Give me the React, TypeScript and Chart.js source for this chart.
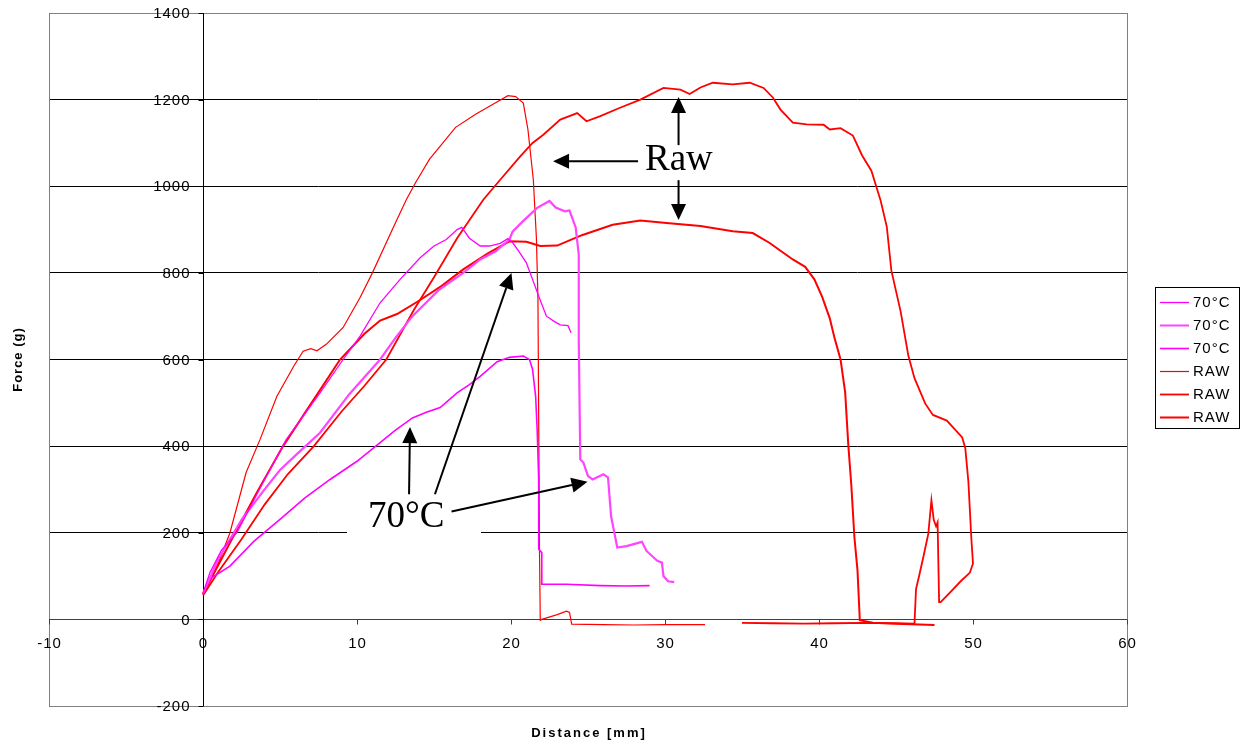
import React, { useEffect, useRef } from 'react';
import { Chart, registerables } from 'chart.js';

Chart.register(...registerables);

// ---------- axis ticks ----------
const xTickValues = [-10, 0, 10, 20, 30, 40, 50, 60];
const yTickValues = [-200, 0, 200, 400, 600, 800, 1000, 1200, 1400];
const xTitle = 'Distance [mm]';
const yTitle = 'Force (g)';

// ---------- series: 70°C ----------
const m1X = [0, 0.45, 1.2, 2.2, 3.9, 5.4, 7.6, 9.1, 10.2, 11.5, 12.8, 14.1, 15.0, 15.8, 16.5, 16.8, 17.3, 18.0, 18.6, 19.3, 19.8, 20.1, 20.5, 21.0, 21.4, 21.8, 22.3, 22.8, 23.2, 23.7, 23.9];
const m1Y = [60, 108, 160, 200, 316, 415, 523, 600, 654, 731, 785, 835, 862, 877, 900, 905, 880, 862, 862, 868, 879, 870, 850, 823, 785, 746, 700, 688, 680, 678, 662];

const m2X = [0, 1, 2.5, 4, 5.0, 6.2, 7.6, 9.5, 11.5, 12.5, 13.6, 15.3, 16.9, 18.0, 19.0, 19.9, 20.1, 20.8, 21.7, 22.5, 22.9, 23.5, 23.8, 24.2, 24.4, 24.4, 24.5, 24.7, 25.0, 25.3, 26.0, 26.3, 26.5, 26.9, 27.5, 28.5, 28.8, 29.5, 29.8, 29.9, 30.2, 30.6];
const m2Y = [60, 140, 230, 300, 345, 385, 431, 520, 600, 650, 700, 760, 800, 831, 850, 877, 895, 920, 950, 966, 951, 942, 944, 905, 842, 646, 369, 362, 331, 323, 335, 328, 238, 166, 169, 179, 158, 135, 131, 100, 88, 86];

const m3X = [0, 0.5, 1.75, 3.3, 5.0, 6.6, 8.25, 10, 11.5, 12.5, 13.6, 14.5, 15.4, 16.5, 17.3, 18.0, 19.1, 19.9, 20.8, 21.2, 21.4, 21.6, 21.7, 21.8, 21.8, 22.0, 22.0, 23.6, 25.8, 27.5, 29.0];
const m3Y = [60, 95, 123, 180, 231, 280, 323, 365, 408, 437, 465, 478, 489, 523, 542, 561, 595, 605, 608, 600, 577, 515, 438, 323, 162, 154, 81, 81, 78, 77, 78];

// ---------- series: RAW ----------
const r1X = [0, 0.5, 1, 1.75, 2.8, 3.7, 4.8, 5.9, 6.5, 7.0, 7.4, 8.0, 9.1, 10.2, 11.0, 12.4, 13.2, 13.8, 14.7, 16.4, 17.7, 19.0, 19.8, 20.3, 20.8, 21.1, 21.45, 21.65, 21.75, 21.8, 21.85, 21.9, 22.0, 23.0, 23.6, 23.8, 23.94, 26, 28, 30, 32.6];
const r1Y = [58, 95, 130, 200, 339, 415, 515, 585, 619, 625, 620, 635, 674, 743, 800, 908, 969, 1008, 1062, 1136, 1166, 1193, 1209, 1207, 1192, 1131, 1015, 880, 740, 450, 160, -2, 0, 11, 19, 16, -11, -12, -13, -12, -12];

const r2X = [0, 1, 2.5, 4, 5.5, 7.2, 9, 10.5, 11.9, 13.7, 15, 16.5, 18.2, 19.3, 20.6, 21.4, 22.1, 23.2, 24.3, 24.9, 25.8, 27, 28.4, 29.9, 31.0, 31.6, 32.3, 33.1, 34.4, 35.5, 36.4, 37.0, 37.5, 38.3, 39.2, 40.3, 40.7, 41.4, 42.2, 42.8, 43.4, 44.0, 44.4, 44.7, 45.3, 45.8, 46.2, 46.9, 47.4, 48.3, 49.3, 49.5, 49.7, 49.9, 50.0, 49.8, 49.2, 48.5, 47.9, 47.8, 47.7, 47.6, 47.45, 47.3, 47.1, 46.8, 46.5, 46.3, 46.2, 45, 43, 41, 39, 37, 35];
const r2Y = [55, 110, 185, 265, 335, 400, 480, 540, 600, 715, 790, 880, 969, 1015, 1069, 1100, 1119, 1154, 1169, 1150, 1162, 1180, 1200, 1227, 1223, 1213, 1228, 1239, 1235, 1239, 1227, 1205, 1177, 1147, 1143, 1142, 1131, 1134, 1117, 1071, 1036, 967, 907, 805, 711, 609, 557, 498, 472, 459, 420, 395, 318, 182, 129, 108, 88, 62, 40, 40, 224, 215, 230, 275, 198, 148, 100, 70, -10, -9, -8, -9, -10, -9, -8];

const r3X = [0, 1.75, 3.5, 5.2, 7.2, 8.9, 10.5, 11.5, 12.6, 14, 15.5, 16.9, 18.5, 19.9, 21.0, 21.9, 23.0, 24.6, 26.6, 28.4, 30.1, 32.3, 34.4, 35.7, 36.8, 37.5, 38.3, 39.1, 39.7, 40.2, 40.7, 41.0, 41.4, 41.7, 41.9, 42.1, 42.3, 42.5, 42.65, 43.5, 45, 46.5, 47.5];
const r3Y = [58, 177, 293, 400, 508, 600, 660, 690, 705, 735, 770, 808, 845, 873, 872, 862, 863, 887, 911, 921, 915, 908, 896, 892, 869, 851, 831, 814, 785, 745, 695, 651, 600, 524, 404, 309, 189, 113, -2, -8, -10, -12, -13];

const seriesLabels = ['70°C', '70°C', '70°C', 'RAW', 'RAW', 'RAW'];

// ---------- annotations (data coordinates) ----------
const arrowTails = [[28.25, 1058], [30.88, 1095], [30.88, 1014], [13.38, 289], [15.06, 289], [16.14, 249]];
const arrowTips = [[22.73, 1058], [30.88, 1206], [30.88, 922], [13.44, 444], [20.03, 800], [24.97, 318]];
const noteTexts = ['Raw', '70°C'];
const notePos = [[28.7, 1038], [10.71, 213]];
const noteBox = [9.35, 183, 18.05, 299];

const toPoints = (xs: number[], ys: number[]) => xs.map((x, i) => ({ x, y: ys[i] }));

const styles = [
  { color: '#FF00FF', width: 1.3 },
  { color: '#FF44FF', width: 2.2 },
  { color: '#FF00FF', width: 1.6 },
  { color: '#FF0000', width: 1.2 },
  { color: '#FF0000', width: 1.8 },
  { color: '#FF0000', width: 2.0 },
];

const TICK_FONT = '15px "Liberation Sans", Arial, sans-serif';
const TITLE_FONT = 'bold 13px "Liberation Sans", Arial, sans-serif';
const NOTE_FONT = '37px "Liberation Serif", "Times New Roman", serif';

const decor = {
  id: 'decor',
  beforeDatasetsDraw(chart: any) {
    const { ctx, chartArea: ca, scales } = chart;
    const xs = scales.x, ys = scales.y;
    const px = (v: number) => xs.getPixelForValue(v);
    const py = (v: number) => ys.getPixelForValue(v);
    ctx.save();
    // plot frame
    ctx.strokeStyle = '#808080';
    ctx.lineWidth = 1;
    ctx.strokeRect(Math.round(ca.left) + 0.5, Math.round(ca.top) + 0.5, Math.round(ca.right - ca.left), Math.round(ca.bottom - ca.top));
    // white box behind note
    ctx.fillStyle = '#ffffff';
    const bx1 = px(noteBox[0]), bx2 = px(noteBox[2]);
    const by1 = py(noteBox[3]), by2 = py(noteBox[1]);
    ctx.fillRect(bx1, by1, bx2 - bx1, by2 - by1);
    // x axis line at y = 0
    const y0 = Math.round(py(0)) + 0.5;
    const x0 = Math.round(px(0)) + 0.5;
    ctx.strokeStyle = '#404040';
    ctx.beginPath();
    ctx.moveTo(ca.left, y0);
    ctx.lineTo(ca.right, y0);
    xs.ticks.forEach((t: any) => {
      const xx = Math.round(px(t.value)) + 0.5;
      ctx.moveTo(xx, y0);
      ctx.lineTo(xx, y0 + 5);
    });
    ctx.stroke();
    // y axis line at x = 0
    ctx.strokeStyle = '#000000';
    ctx.beginPath();
    ctx.moveTo(x0, ca.top);
    ctx.lineTo(x0, ca.bottom);
    ys.ticks.forEach((t: any) => {
      const yy = Math.round(py(t.value)) + 0.5;
      ctx.moveTo(x0 - 5, yy);
      ctx.lineTo(x0, yy);
    });
    ctx.stroke();
    // tick labels
    ctx.fillStyle = '#000000';
    ctx.font = TICK_FONT;
    (ctx as any).letterSpacing = '1px';
    ctx.textBaseline = 'middle';
    ctx.textAlign = 'right';
    ys.ticks.forEach((t: any) => {
      ctx.fillText(String(t.value), x0 - 13, py(t.value) + 1);
    });
    ctx.textAlign = 'center';
    xs.ticks.forEach((t: any) => {
      ctx.fillText(String(t.value), px(t.value) + 0.5, y0 + 24.5);
    });
    // axis titles
    ctx.font = TITLE_FONT;
    (ctx as any).letterSpacing = '2px';
    ctx.textAlign = 'center';
    ctx.fillText(xTitle, (ca.left + ca.right) / 2 + 1, 733);
    (ctx as any).letterSpacing = '1px';
    ctx.save();
    ctx.translate(18, (ca.top + ca.bottom) / 2);
    ctx.rotate(-Math.PI / 2);
    ctx.fillText(yTitle, 0, 0);
    ctx.restore();
    (ctx as any).letterSpacing = '0px';
    ctx.restore();
  },
  afterDatasetsDraw(chart: any) {
    const { ctx, scales } = chart;
    const xs = scales.x, ys = scales.y;
    const px = (v: number) => xs.getPixelForValue(v);
    const py = (v: number) => ys.getPixelForValue(v);
    ctx.save();
    ctx.strokeStyle = '#000000';
    ctx.fillStyle = '#000000';
    ctx.lineWidth = 2;
    const headLen = 16, headHalf = 7.5;
    arrowTails.forEach((tail, i) => {
      const tip = arrowTips[i];
      const tx = px(tail[0]), ty = py(tail[1]);
      const hx = px(tip[0]), hy = py(tip[1]);
      const ang = Math.atan2(hy - ty, hx - tx);
      const bx = hx - headLen * Math.cos(ang), by = hy - headLen * Math.sin(ang);
      ctx.beginPath();
      ctx.moveTo(tx, ty);
      ctx.lineTo(bx, by);
      ctx.stroke();
      ctx.beginPath();
      ctx.moveTo(hx, hy);
      ctx.lineTo(bx + headHalf * Math.sin(ang), by - headHalf * Math.cos(ang));
      ctx.lineTo(bx - headHalf * Math.sin(ang), by + headHalf * Math.cos(ang));
      ctx.closePath();
      ctx.fill();
    });
    ctx.font = NOTE_FONT;
    ctx.textAlign = 'left';
    ctx.textBaseline = 'alphabetic';
    noteTexts.forEach((t, i) => {
      ctx.fillText(t, px(notePos[i][0]), py(notePos[i][1]));
    });
    ctx.restore();
  },
  afterDraw(chart: any) {
    const { ctx } = chart;
    ctx.save();
    ctx.strokeStyle = '#000000';
    ctx.lineWidth = 1;
    ctx.strokeRect(1155.5, 287.5, 84, 141);
    ctx.font = TICK_FONT;
    (ctx as any).letterSpacing = '1px';
    ctx.textAlign = 'left';
    ctx.textBaseline = 'middle';
    chart.data.datasets.forEach((ds: any, i: number) => {
      const yy = 302 + i * 23;
      ctx.strokeStyle = ds.borderColor;
      ctx.lineWidth = Math.min(ds.borderWidth, 2);
      ctx.beginPath();
      ctx.moveTo(1160, yy + 0.5);
      ctx.lineTo(1189, yy + 0.5);
      ctx.stroke();
      ctx.fillStyle = '#000000';
      ctx.fillText(ds.label, 1193, yy + 1);
    });
    (ctx as any).letterSpacing = '0px';
    ctx.restore();
  },
};

export default function App() {
  const ref = useRef<HTMLCanvasElement | null>(null);
  useEffect(() => {
    if (!ref.current) return;
    const allX = [m1X, m2X, m3X, r1X, r2X, r3X];
    const allY = [m1Y, m2Y, m3Y, r1Y, r2Y, r3Y];
    const chart = new Chart(ref.current, {
      type: 'scatter',
      data: {
        datasets: allX.map((xs, i) => ({
          label: seriesLabels[i],
          data: toPoints(xs, allY[i]),
          showLine: true,
          borderColor: styles[i].color,
          backgroundColor: styles[i].color,
          borderWidth: styles[i].width,
          pointRadius: 0,
          pointHoverRadius: 0,
          tension: 0,
          fill: false,
        })),
      },
      options: {
        responsive: false,
        maintainAspectRatio: false,
        animation: false,
        events: [],
        layout: { padding: { left: 49, right: 120, top: 13, bottom: 36 } },
        plugins: { legend: { display: false }, tooltip: { enabled: false }, title: { display: false } },
        scales: {
          x: {
            type: 'linear',
            min: -10,
            max: 60,
            afterBuildTicks: (s: any) => { s.ticks = xTickValues.map((v) => ({ value: v })); },
            ticks: { display: false },
            grid: { display: false, drawTicks: false },
            border: { display: false },
          },
          y: {
            type: 'linear',
            min: -200,
            max: 1400,
            afterBuildTicks: (s: any) => { s.ticks = yTickValues.map((v) => ({ value: v })); },
            ticks: { display: false },
            grid: {
              display: true,
              drawOnChartArea: true,
              drawTicks: false,
              lineWidth: 1,
              color: (c: any) => (c.tick && (c.tick.value === 1400 || c.tick.value === -200) ? '#808080' : '#000000'),
            },
            border: { display: false },
          },
        },
      } as any,
      plugins: [decor],
    });
    return () => chart.destroy();
  }, []);
  return (
    <div style={{ position: 'absolute', left: 0, top: 0, width: 1247, height: 742, background: '#fff' }}>
      <canvas ref={ref} width={1247} height={742} style={{ display: 'block' }} />
    </div>
  );
}
